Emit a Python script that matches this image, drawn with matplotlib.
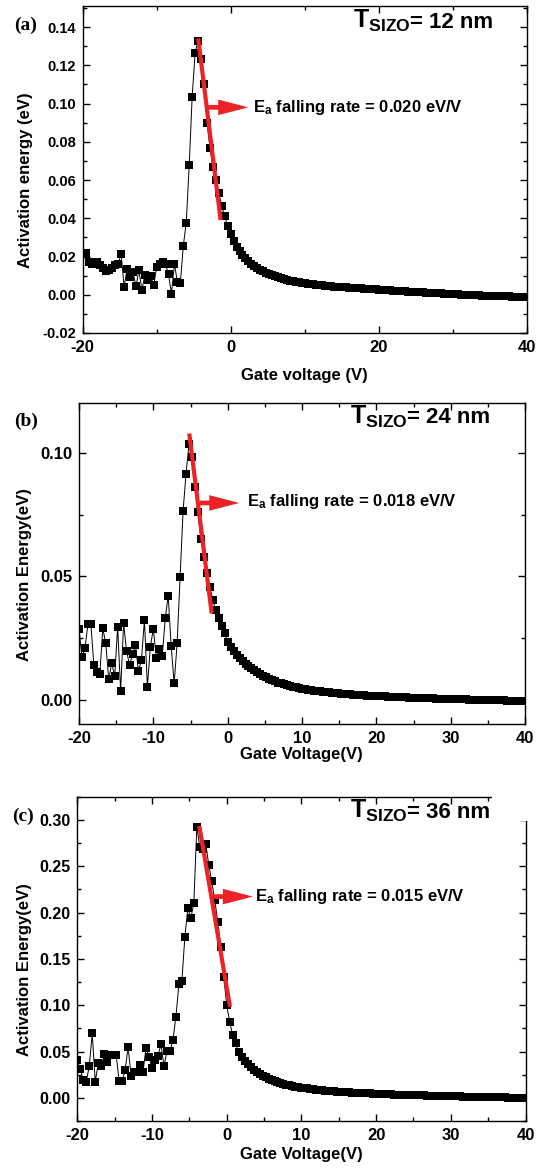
import numpy as np
import matplotlib
matplotlib.use('Agg')
import matplotlib.pyplot as plt
from matplotlib.ticker import MultipleLocator, FormatStrFormatter
from matplotlib.patches import Rectangle

plt.rcParams['font.family'] = ['Liberation Sans', 'DejaVu Sans']
plt.rcParams['font.weight'] = 'bold'
plt.rcParams['axes.unicode_minus'] = False
plt.rcParams['mathtext.fontset'] = 'custom'
plt.rcParams['mathtext.rm'] = 'Liberation Sans:bold'
plt.rcParams['mathtext.it'] = 'Liberation Sans:bold'
plt.rcParams['mathtext.bf'] = 'Liberation Sans:bold'

# ---------------- data ----------------
# gate-voltage sweep: -20 V .. 40 V in 0.4 V steps (151 points)
gate_voltage = np.linspace(-20, 40, 151)

# (a) T_SIZO = 12 nm
ea_12nm = [
    # -20.0 .. -6.8
    0.0220, 0.0220, 0.0171, 0.0162, 0.0171, 0.0170, 0.0153, 0.0140, 0.0124, 0.0127,
    0.0140, 0.0153, 0.0162, 0.0215, 0.0040, 0.0136, 0.0092, 0.0119, 0.0044, 0.0127,
    0.0026, 0.0101, 0.0075, 0.0096, 0.0049, 0.0145, 0.0162, 0.0171, 0.0162, 0.0106,
    0.0005, 0.0162, 0.0066, 0.0061,
    # -6.4 .. 0.0
    0.0255, 0.0377, 0.0677, 0.1036, 0.1266, 0.1327, 0.1231, 0.1100, 0.0900, 0.0770,
    0.0670, 0.0600, 0.0530, 0.0465, 0.0410, 0.0360, 0.0320,
    # 0.4 .. 40.0
    0.0280, 0.0252, 0.0228, 0.0208, 0.0190, 0.0175, 0.0162, 0.0150, 0.0140, 0.0131,
    0.0122, 0.0115, 0.0108, 0.0102, 0.0096, 0.0091, 0.0086, 0.0082, 0.0078, 0.0074,
    0.0071, 0.0068, 0.0065, 0.0062, 0.0060, 0.0058, 0.0056, 0.0054, 0.0052, 0.0050,
    0.0049, 0.0047, 0.0046, 0.0044, 0.0043, 0.0042, 0.0041, 0.0039, 0.0038, 0.0037,
    0.0036, 0.0035, 0.0034, 0.0033, 0.0032, 0.0031, 0.0030, 0.0029, 0.0028, 0.0027,
    0.0026, 0.0025, 0.0024, 0.0023, 0.0022, 0.0021, 0.0020, 0.0019, 0.0018, 0.0017,
    0.0016, 0.0015, 0.0014, 0.0013, 0.0012, 0.0011, 0.0010, 0.0009, 0.0009, 0.0008,
    0.0007, 0.0006, 0.0005, 0.0004, 0.0004, 0.0003, 0.0002, 0.0001, 0.0001, 0.0000,
    -0.0001, -0.0002, -0.0002, -0.0003, -0.0004, -0.0004, -0.0005, -0.0006, -0.0006, -0.0007,
    -0.0008, -0.0008, -0.0009, -0.0009, -0.0010, -0.0010, -0.0011, -0.0011, -0.0012, -0.0012,
]

# (b) T_SIZO = 24 nm
ea_24nm = [
    # -20.0 .. -6.8
    0.0286, 0.0175, 0.0209, 0.0307, 0.0307, 0.0141, 0.0115, 0.0105, 0.0290, 0.0229,
    0.0084, 0.0148, 0.0097, 0.0296, 0.0036, 0.0310, 0.0199, 0.0141, 0.0186, 0.0221,
    0.0117, 0.0162, 0.0323, 0.0054, 0.0216, 0.0288, 0.0172, 0.0205, 0.0178, 0.0330,
    0.0422, 0.0218, 0.0067, 0.0229,
    # -6.4 .. 0.0
    0.0496, 0.0764, 0.0916, 0.1037, 0.0984, 0.0862, 0.0759, 0.0653, 0.0580, 0.0512,
    0.0458, 0.0404, 0.0364, 0.0333, 0.0300, 0.0270, 0.0236,
    # 0.4 .. 40.0
    0.0215, 0.0198, 0.0183, 0.0170, 0.0158, 0.0147, 0.0137, 0.0128, 0.0120, 0.0112,
    0.0105, 0.0098, 0.0092, 0.0086, 0.0081, 0.0076, 0.0071, 0.0067, 0.0063, 0.0060,
    0.0057, 0.0054, 0.0051, 0.0048, 0.0046, 0.0044, 0.0042, 0.0040, 0.0038, 0.0036,
    0.0035, 0.0033, 0.0032, 0.0031, 0.0029, 0.0028, 0.0027, 0.0026, 0.0025, 0.0024,
    0.0023, 0.0022, 0.0021, 0.0021, 0.0020, 0.0019, 0.0018, 0.0018, 0.0017, 0.0016,
    0.0016, 0.0015, 0.0015, 0.0014, 0.0013, 0.0013, 0.0012, 0.0012, 0.0011, 0.0011,
    0.0010, 0.0010, 0.0009, 0.0009, 0.0008, 0.0008, 0.0008, 0.0007, 0.0007, 0.0006,
    0.0006, 0.0006, 0.0005, 0.0005, 0.0004, 0.0004, 0.0004, 0.0003, 0.0003, 0.0003,
    0.0002, 0.0002, 0.0002, 0.0001, 0.0001, 0.0001, 0.0000, 0.0000, 0.0000, -0.0001,
    -0.0001, -0.0001, -0.0001, -0.0002, -0.0002, -0.0002, -0.0002, -0.0003, -0.0003, -0.0003,
]

# (c) T_SIZO = 36 nm
ea_36nm = [
    # -20.0 .. -7.2
    0.0407, 0.0306, 0.0191, 0.0173, 0.0342, 0.0695, 0.0173, 0.0371, 0.0342, 0.0468,
    0.0389, 0.0461, 0.0460, 0.0461, 0.0184, 0.0180, 0.0299, 0.0544, 0.0238, 0.0281,
    0.0281, 0.0353, 0.0281, 0.0540, 0.0443, 0.0317, 0.0407, 0.0450, 0.0580, 0.0342,
    0.0504, 0.0504, 0.0623,
    # -6.8 .. 1.6
    0.0875, 0.1224, 0.1260, 0.1739, 0.2053, 0.1937, 0.2100, 0.2928, 0.2704, 0.2686,
    0.2740, 0.2513, 0.2340, 0.2135, 0.1900, 0.1630, 0.1307, 0.1001, 0.0820, 0.0677,
    0.0587, 0.0497,
    # 2.0 .. 40.0
    0.0440, 0.0400, 0.0362, 0.0330, 0.0302, 0.0277, 0.0256, 0.0237, 0.0220, 0.0205,
    0.0192, 0.0180, 0.0169, 0.0159, 0.0150, 0.0142, 0.0135, 0.0128, 0.0122, 0.0116,
    0.0111, 0.0106, 0.0101, 0.0097, 0.0093, 0.0089, 0.0085, 0.0082, 0.0079, 0.0076,
    0.0073, 0.0070, 0.0068, 0.0066, 0.0063, 0.0061, 0.0059, 0.0057, 0.0055, 0.0053,
    0.0052, 0.0050, 0.0048, 0.0047, 0.0045, 0.0044, 0.0042, 0.0041, 0.0040, 0.0038,
    0.0037, 0.0036, 0.0035, 0.0034, 0.0033, 0.0032, 0.0031, 0.0030, 0.0029, 0.0028,
    0.0027, 0.0026, 0.0025, 0.0024, 0.0023, 0.0022, 0.0021, 0.0020, 0.0019, 0.0018,
    0.0018, 0.0017, 0.0016, 0.0015, 0.0014, 0.0013, 0.0013, 0.0012, 0.0011, 0.0010,
    0.0009, 0.0009, 0.0008, 0.0007, 0.0006, 0.0006, 0.0005, 0.0004, 0.0004, 0.0003,
    0.0002, 0.0002, 0.0001, 0.0001, 0.0000, 0.0000,
]

# red fitted lines (start, end) and annotation arrows
fit_a = ([-4.38, -1.35], [0.134, 0.039])
fit_b = ([-5.17, -2.15], [0.1078, 0.035])
fit_c = ([-3.67, 0.44], [0.2935, 0.0983])
arrow_a = ((-3.03, 0.098), (2.38, 0.098))
arrow_b = ((-3.73, 0.0797), (1.56, 0.0797))
arrow_c = ((-1.79, 0.2172), (3.5, 0.2172))
rate_labels = ['0.020', '0.018', '0.015']
thick_labels = ['12', '24', '36']
ylabels = ['Activation energy (eV)', 'Activation Energy(eV)', 'Activation Energy(eV)']
xlabels = ['Gate voltage (V)', 'Gate Voltage(V)', 'Gate Voltage(V)']
panel_tags = ['(a)', '(b)', '(c)']

# ---------------- layout ----------------
W, H = 540, 1173
fig = plt.figure(figsize=(5.4, 11.73), dpi=100)


def fx(x):
    return x / W


def fy(y):
    return 1 - y / H


def box(l, t, r, b):
    return [fx(l), fy(b), (r - l) / W, (b - t) / H]


RED = '#ec2227'

panels = [
    dict(box=(82.7, 6, 526.5, 333), data=ea_12nm, ylim=(-0.02, 0.151),
         xmaj=20, xmin=10, ymaj=0.02, ymin=0.01, ylsize=10.5,
         fit=fit_a, arrow=arrow_a, text_xy=(2.97, 0.098),
         title_x=493, title_base=28.3, tag_xy=(14, 25.5),
         ylab_xy=(26, 180), xlab_xy=(304, 375)),
    dict(box=(79, 403.3, 525, 724.3), data=ea_24nm, ylim=(-0.0098, 0.12),
         xmaj=10, xmin=5, ymaj=0.05, ymin=0.025, ylsize=12,
         fit=fit_b, arrow=arrow_b, text_xy=(2.56, 0.0802),
         title_x=490, title_base=423.3, tag_xy=(14, 421.5),
         ylab_xy=(25, 575), xlab_xy=(301.5, 754)),
    dict(box=(77.3, 796.7, 525.5, 1121), data=ea_36nm, ylim=(-0.025, 0.325),
         xmaj=10, xmin=5, ymaj=0.05, ymin=0.025, ylsize=11.5,
         fit=fit_c, arrow=arrow_c, text_xy=(3.79, 0.2172),
         title_x=490, title_base=818.3, tag_xy=(12, 816.5),
         ylab_xy=(25, 970), xlab_xy=(301.5, 1155)),
]

for k, p in enumerate(panels):
    ax = fig.add_axes(box(*p['box']))
    ax.plot(gate_voltage, p['data'], '-', color='black', lw=0.7,
            marker='s', ms=6.0, mfc='black', mec='black', mew=0, zorder=3)
    ax.plot(p['fit'][0], p['fit'][1], '-', color=RED, lw=3.0,
            solid_capstyle='butt', zorder=4)
    (x0, y0), (x1, y1) = p['arrow']
    ax.annotate('', xy=(x1, y1), xytext=(x0, y0),
                arrowprops=dict(arrowstyle='simple,head_length=1.08,head_width=0.56,tail_width=0.17',
                                mutation_scale=20, fc=RED, ec='none',
                                shrinkA=0, shrinkB=0), zorder=5)
    ax.text(p['text_xy'][0], p['text_xy'][1],
            r'E$_\mathrm{a}$ falling rate = ' + rate_labels[k] + ' eV/V',
            fontsize=12, fontweight='bold', ha='left', va='center')
    ax.set_xlim(-20, 40)
    ax.set_ylim(*p['ylim'])
    ax.xaxis.set_major_locator(MultipleLocator(p['xmaj']))
    ax.xaxis.set_minor_locator(MultipleLocator(p['xmin']))
    ax.yaxis.set_major_locator(MultipleLocator(p['ymaj']))
    ax.yaxis.set_minor_locator(MultipleLocator(p['ymin']))
    ax.yaxis.set_major_formatter(FormatStrFormatter('%.2f'))
    ax.xaxis.set_major_formatter(FormatStrFormatter('%d'))
    ax.tick_params(which='both', direction='in', top=True, right=True, width=1.0)
    ax.tick_params(which='major', length=5)
    ax.tick_params(which='minor', length=3)
    ax.tick_params(axis='x', which='major', labelsize=12, pad=5)
    ax.tick_params(axis='y', which='major', labelsize=p['ylsize'], pad=5)
    for lab in ax.get_xticklabels() + ax.get_yticklabels():
        lab.set_fontweight('bold')
    for s in ax.spines.values():
        s.set_linewidth(1.0)

    # title  T_SIZO = .. nm
    t2 = fig.text(fx(p['title_x']), fy(p['title_base']), '= ' + thick_labels[k] + ' nm',
                  fontsize=16, fontweight='bold', ha='right', va='baseline')
    fig.canvas.draw()
    bb = t2.get_window_extent()
    fig.text(bb.x0 / fig.dpi / 5.4 + 0.002, fy(p['title_base']), r'$\mathrm{T_{SIZO}}$',
             fontsize=18, fontweight='bold', ha='right', va='baseline')

    fig.text(fx(p['tag_xy'][0]), fy(p['tag_xy'][1]), panel_tags[k],
             family=['Liberation Serif', 'DejaVu Serif'], fontsize=14,
             fontweight='bold', ha='left', va='center')
    fig.text(fx(p['ylab_xy'][0]), fy(p['ylab_xy'][1]), ylabels[k], rotation=90,
             fontsize=12, fontweight='bold', ha='center', va='center')
    fig.text(fx(p['xlab_xy'][0]), fy(p['xlab_xy'][1]), xlabels[k],
             fontsize=12, fontweight='bold', ha='center', va='center')

# white patch over the top-right corner of panel (c), as in the source figure
fig.add_artist(Rectangle((fx(492), fy(821)), (531 - 492) / W, (821 - 788) / H,
                         transform=fig.transFigure, facecolor='white',
                         edgecolor='none', zorder=10))

fig.savefig('out.png', dpi=100)
